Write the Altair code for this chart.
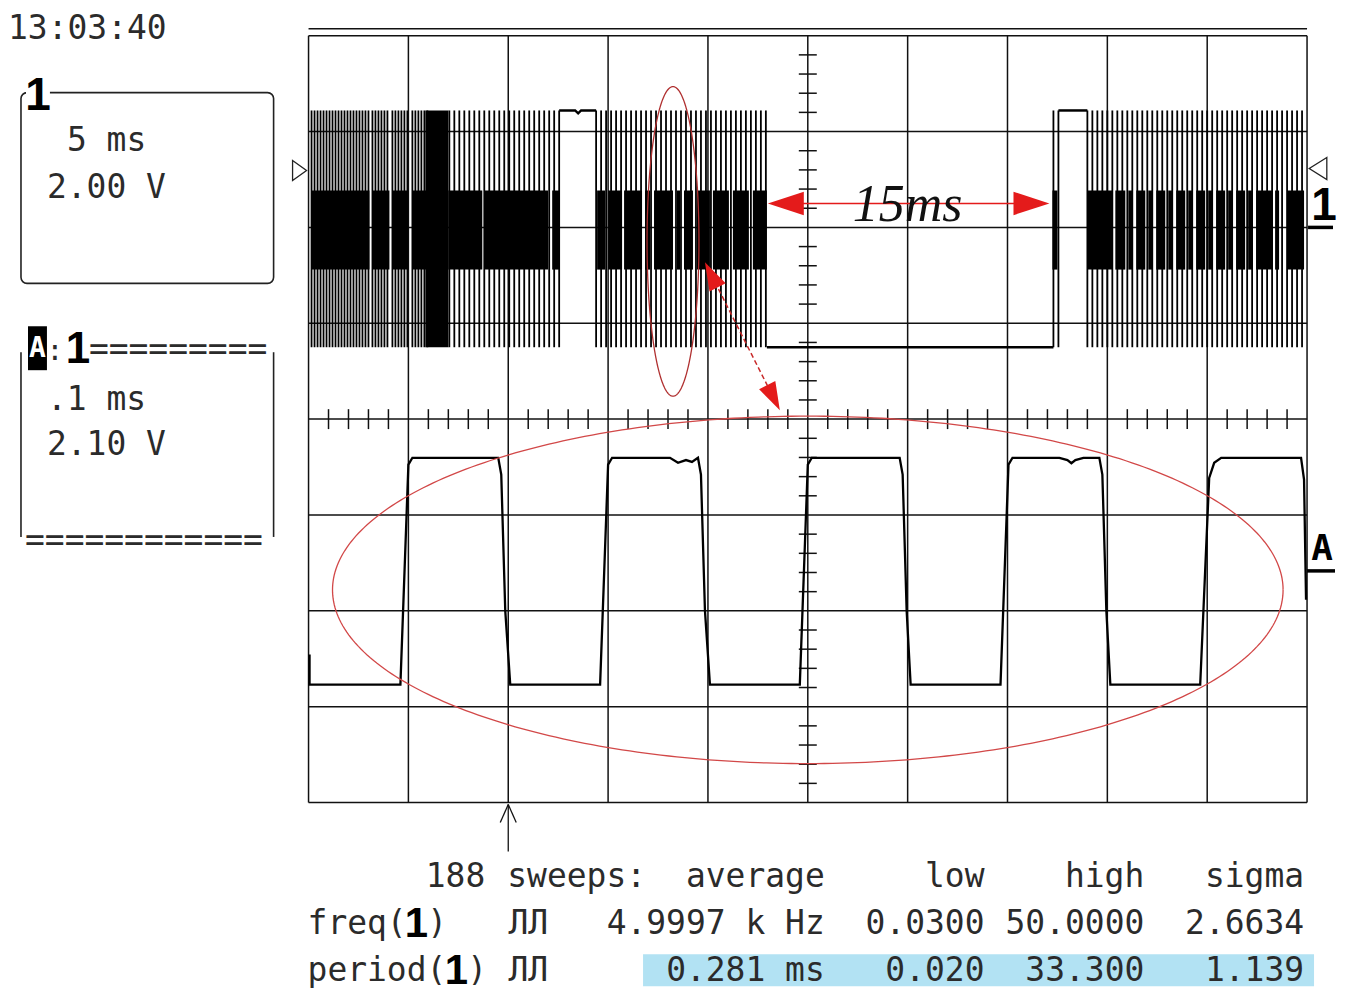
import math
import altair as alt
import numpy as np
import pandas as pd

# ===================== DATA =====================
# Channel 1 : 5 ms/div, 2.00 V/div, ground marker two divisions below the top
CH1_MS_PER_DIV = 5.0
CH1_V_PER_DIV = 2.00
CH1_ZERO_DIV = 6.0
ch1_high = 2.44
ch1_low = -2.50
ch1_band_hi = 0.77
ch1_band_lo = -0.88

# pulse bursts (ms from left edge of screen) and visible line pitch
burst_start = [0.15, 3.20, 4.20, 5.20, 7.05, 14.40, 37.30, 39.00]
burst_end = [3.05, 4.05, 5.00, 6.00, 12.55, 22.95, 37.55, 49.85]
burst_step = [0.15, 0.15, 0.15, 0.15, 0.25, 0.25, 0.25, 0.25]

# dense (overlapping) part of the bursts
band_start = [0.15, 3.20, 4.20, 5.20, 7.00, 8.80, 12.20,
              14.45, 15.00, 15.80, 16.85, 17.30, 18.45, 18.80, 19.45, 20.25, 21.25, 22.25,
              37.25, 39.00, 40.40, 41.05, 41.45, 42.05, 42.45, 43.05, 43.45, 44.05, 44.45,
              45.05, 45.45, 46.05, 46.45, 47.05, 47.45, 48.40, 49.00]
band_end = [3.05, 4.05, 5.00, 6.00, 8.70, 12.00, 12.55,
            14.85, 15.70, 16.70, 17.10, 18.25, 18.60, 19.25, 20.10, 21.05, 22.05, 22.95,
            37.50, 40.25, 40.90, 41.25, 41.90, 42.25, 42.90, 43.25, 43.90, 44.25, 44.90,
            45.25, 45.90, 46.25, 46.90, 47.25, 48.25, 48.60, 49.85]
heavy_start = [5.85]
heavy_end = [7.00]

# flat parts of channel 1
flat_seg = [1, 1, 1, 1, 1, 2, 2, 3, 3]
flat_t = [12.55, 13.35, 13.50, 13.65, 14.40, 22.95, 37.30, 37.55, 39.00]
flat_v = [2.44, 2.44, 2.38, 2.44, 2.44, -2.50, -2.50, 2.44, 2.44]

# Channel A (zoom of 1): 0.1 ms/div, 2.10 V/div
CHA_MS_PER_DIV = 0.1
CHA_V_PER_DIV = 2.10
CHA_ZERO_DIV = 2.43
chA_t = [0.001, 0.001, 0.092, 0.100, 0.104, 0.190, 0.193, 0.197, 0.202,
         0.292, 0.300, 0.304, 0.362, 0.370, 0.378, 0.384, 0.390, 0.393, 0.397, 0.402,
         0.492, 0.500, 0.504, 0.592, 0.595, 0.599, 0.603,
         0.693, 0.701, 0.705, 0.752, 0.760, 0.764, 0.768, 0.776, 0.792, 0.795, 0.799, 0.803,
         0.893, 0.902, 0.907, 0.914, 0.994, 0.997, 0.999]
chA_v = [-1.86, -2.52, -2.52, 2.30, 2.45, 2.45, 2.08, -0.90, -2.52,
         -2.52, 2.30, 2.45, 2.45, 2.34, 2.40, 2.36, 2.45, 2.08, -0.90, -2.52,
         -2.52, 2.30, 2.45, 2.45, 2.08, -0.90, -2.52,
         -2.52, 2.30, 2.45, 2.45, 2.40, 2.33, 2.40, 2.45, 2.45, 2.08, -0.90, -2.52,
         -2.52, 2.01, 2.34, 2.45, 2.45, 1.97, -0.66]

# texts
clock_label = ["13:03:40"]
ch1_panel = ["5 ms", "2.00 V"]
chA_panel = [".1 ms", "2.10 V"]
hdr_labels = ["188", "average", "low", "high", "sigma"]
hdr_left = ["sweeps:"]
freq_vals = ["4.9997 k Hz", "0.0300", "50.0000", "2.6634"]
period_vals = ["0.281 ms", "0.020", "33.300", "1.139"]
row_names = ["freq(", "period("]
pulse_sym = ["ЛЛ", "ЛЛ"]
annot_label = ["15ms"]

# ===================== SCREEN GEOMETRY =====================
def X(px):
    return (float(px) - 308.0) / 100.0


def Y(py):
    return 8.0 - (float(py) - 35.0) / 96.0


XS = alt.Scale(domain=[X(8), X(1337)], nice=False, zero=False)
YS = alt.Scale(domain=[Y(987), Y(8)], nice=False, zero=False)


def ex(f="x"):
    return alt.X(f"{f}:Q", scale=XS, axis=None)


def ey(f="y"):
    return alt.Y(f"{f}:Q", scale=YS, axis=None)


def rules(rows, color="#111111", width=1.5, dash=None):
    df = pd.DataFrame(rows, columns=["x", "y", "x2", "y2"])
    kw = dict(color=color, strokeWidth=width)
    if dash:
        kw["strokeDash"] = dash
    return alt.Chart(df).mark_rule(**kw).encode(x=ex("x"), y=ey("y"), x2="x2:Q", y2="y2:Q")


def rects(rows, **kw):
    df = pd.DataFrame(rows, columns=["x", "y", "x2", "y2"])
    return alt.Chart(df).mark_rect(**kw).encode(x=ex("x"), y=ey("y"), x2="x2:Q", y2="y2:Q")


def texts(labels, xs_px, ys_px, align="left", font="DejaVu Sans Mono", size=33,
          weight="normal", color="#2b2b2b", style="normal"):
    df = pd.DataFrame({"label": labels, "x": [X(v) for v in xs_px], "y": [Y(v) for v in ys_px]})
    return alt.Chart(df).mark_text(align=align, baseline="middle", font=font, fontSize=size,
                                   fontWeight=weight, color=color, fontStyle=style).encode(
        x=ex("x"), y=ey("y"), text="label:N")


def points(xs_px, ys_px, shape, size, color, angle=0, filled=True, sw=1.5):
    df = pd.DataFrame({"x": [X(v) for v in xs_px], "y": [Y(v) for v in ys_px]})
    kw = dict(shape=shape, size=size, filled=filled, opacity=1, angle=angle)
    if filled:
        kw.update(fill=color, strokeWidth=0)
    else:
        kw.update(stroke=color, strokeWidth=sw)
    return alt.Chart(df).mark_point(**kw).encode(x=ex("x"), y=ey("y"))


layers = []

# blue highlight behind period row
layers.append(rects([(X(643), Y(955), X(1315), Y(987))], color="#b2e2f3"))

# ---- graticule ----
grid = [(i, 0, i, 8) for i in range(11)] + [(0, j, 10, j) for j in range(9)]
grid.append((0, Y(28), 10, Y(28)))
layers.append(rules(grid, width=1.5))
ticks = [(k * 0.2, 4 - 0.104, k * 0.2, 4 + 0.104) for k in range(1, 50) if k % 5]
ticks += [(5 - 0.09, k * 0.2, 5 + 0.09, k * 0.2) for k in range(1, 40) if k % 5]
layers.append(rules(ticks, width=1.5))


# ---- channel 1 ----
def c1x(t):
    return t / CH1_MS_PER_DIV


def c1y(v):
    return CH1_ZERO_DIV + v / CH1_V_PER_DIV


pulse_rows = []
for s, e, st in zip(burst_start, burst_end, burst_step):
    for t in np.arange(s, e + 1e-6, st):
        pulse_rows.append((c1x(t), c1y(ch1_high), c1x(t), c1y(ch1_low)))
layers.append(rules(pulse_rows, color="#000000", width=1.8))
layers.append(rects([(c1x(a), c1y(ch1_band_hi), c1x(b), c1y(ch1_band_lo))
                     for a, b in zip(band_start, band_end)], color="#000000"))
layers.append(rects([(c1x(a), c1y(ch1_high), c1x(b), c1y(ch1_low))
                     for a, b in zip(heavy_start, heavy_end)], color="#000000"))
flat_df = pd.DataFrame({"x": [c1x(t) for t in flat_t], "y": [c1y(v) for v in flat_v],
                        "seg": flat_seg, "i": range(len(flat_t))})
layers.append(alt.Chart(flat_df).mark_line(color="#000000", strokeWidth=2.5).encode(
    x=ex("x"), y=ey("y"), detail="seg:N", order="i:Q"))

# ---- channel A ----
a_df = pd.DataFrame({"x": [t / CHA_MS_PER_DIV for t in chA_t],
                     "y": [CHA_ZERO_DIV + v / CHA_V_PER_DIV for v in chA_v],
                     "i": range(len(chA_t))})
layers.append(alt.Chart(a_df).mark_line(color="#000000", strokeWidth=2.3).encode(
    x=ex("x"), y=ey("y"), order="i:Q"))


# ---- red annotations ----
def ellipse(cx, cy, rx, ry, color, width):
    th = np.linspace(0, 2 * np.pi, 361)
    df = pd.DataFrame({"x": [X(cx + rx * math.cos(a)) for a in th],
                       "y": [Y(cy + ry * math.sin(a)) for a in th],
                       "i": range(len(th))})
    return alt.Chart(df).mark_line(color=color, strokeWidth=width).encode(
        x=ex("x"), y=ey("y"), order="i:Q")


layers.append(ellipse(673, 241, 26, 155, "#b03030", 1.3))
layers.append(ellipse(808, 590, 476, 174, "#d24848", 1.3))

HEAD = "M-1,0L1,-0.65L1,0.65Z"
RED = "#e41b1b"
# 15 ms arrow
layers.append(rules([(X(786), Y(203), X(1032), Y(203))], color=RED, width=1.5))
layers.append(points([786], [203], HEAD, 36 ** 2, RED, angle=0))
layers.append(points([1032], [203], HEAD, 36 ** 2, RED, angle=180))
# diagonal double arrow from small ellipse to big ellipse
tip_a, tip_b = (705.0, 262.0), (780.0, 410.0)
dx, dy = tip_b[0] - tip_a[0], tip_b[1] - tip_a[1]
ln = math.hypot(dx, dy)
ux, uy = dx / ln, dy / ln
deg = math.degrees(math.atan2(dy, dx))
hl = 28.0
ca = (tip_a[0] + ux * hl / 2, tip_a[1] + uy * hl / 2)
cb = (tip_b[0] - ux * hl / 2, tip_b[1] - uy * hl / 2)
layers.append(rules([(X(ca[0]), Y(ca[1]), X(cb[0]), Y(cb[1]))], color="#c82a2a", width=1.5, dash=[5, 3]))
layers.append(points([ca[0]], [ca[1]], HEAD, hl ** 2, RED, angle=deg % 360))
layers.append(points([cb[0]], [cb[1]], HEAD, hl ** 2, RED, angle=(deg + 180) % 360))
layers.append(texts(annot_label, [908], [205], align="center", font="Liberation Serif",
                    size=52, color="#111111", style="italic"))

# ---- channel markers ----
layers.append(points([299], [170], "M-0.7,-1L0.7,0L-0.7,1Z", 400, "#222222", filled=False, sw=1.3))
layers.append(points([1319], [168], "M0.8,-1L-0.8,0L0.8,1Z", 484, "#222222", filled=False, sw=1.3))
layers.append(texts(["1"], [1325], [206], align="center", font="Liberation Sans", size=46,
                    weight="bold", color="#000000"))
layers.append(texts(["A"], [1323], [549], align="center", font="DejaVu Sans Mono", size=36,
                    weight="bold", color="#000000"))
layers.append(rules([(X(1309), Y(227), X(1334), Y(227)), (X(1308), Y(571), X(1336), Y(571))],
                    color="#000000", width=3.5))

# trigger arrow
layers.append(rules([(X(508), Y(805), X(508), Y(852)), (X(500), Y(823), X(508), Y(805)),
                     (X(516), Y(823), X(508), Y(805))], color="#111111", width=1.3))

# ---- left panel ----
layers.append(texts(clock_label, [7], [28]))
layers.append(rects([(X(20), Y(92), X(273), Y(283))], fillOpacity=0, stroke="#222222",
                    strokeWidth=1.6, cornerRadius=6))
layers.append(rects([(X(25), Y(84), X(49), Y(100))], color="#ffffff"))
layers.append(texts(["1"], [37], [95], align="center", font="Liberation Sans", size=46,
                    weight="bold", color="#000000"))
layers.append(texts(ch1_panel, [66, 46], [140, 188]))
layers.append(rules([(X(20), Y(352), X(20), Y(537)), (X(273), Y(352), X(273), Y(537))],
                    color="#222222", width=1.6))
layers.append(rects([(X(27), Y(326), X(46), Y(370))], color="#000000"))
layers.append(texts(["A"], [36.5], [349], align="center", font="DejaVu Sans Mono", size=28,
                    weight="bold", color="#ffffff"))
layers.append(texts([":"], [54], [352], align="center", size=28))
layers.append(texts(["1"], [77], [350], align="center", font="Liberation Sans", size=44,
                    weight="bold", color="#000000"))
layers.append(texts(["=" * 9, "=" * 12], [88, 24], [350, 541]))
layers.append(texts(chA_panel, [46, 46], [400, 445]))

# ---- measurement table ----
ROWS = [878, 925, 972]
layers.append(texts(hdr_labels, [485, 825, 985, 1145, 1305], [ROWS[0]] * 5, align="right"))
layers.append(texts(hdr_left, [507], [ROWS[0]]))
layers.append(texts(row_names, [307, 307], ROWS[1:]))
layers.append(texts(["1", "1"], [416, 456], ROWS[1:], align="center", font="Liberation Sans",
                    size=42, weight="bold", color="#000000"))
layers.append(texts([")", ")"], [427, 467], ROWS[1:]))
layers.append(texts(pulse_sym, [528, 528], ROWS[1:], align="center"))
layers.append(texts(freq_vals, [825, 985, 1145, 1305], [ROWS[1]] * 4, align="right"))
layers.append(texts(period_vals, [825, 985, 1145, 1305], [ROWS[2]] * 4, align="right"))

chart = alt.layer(*layers).properties(
    width=1329, height=979, padding=0, background="#ffffff"
).configure_view(stroke=None)

chart.save("out.html", embed_options={"renderer": "svg", "actions": False})
